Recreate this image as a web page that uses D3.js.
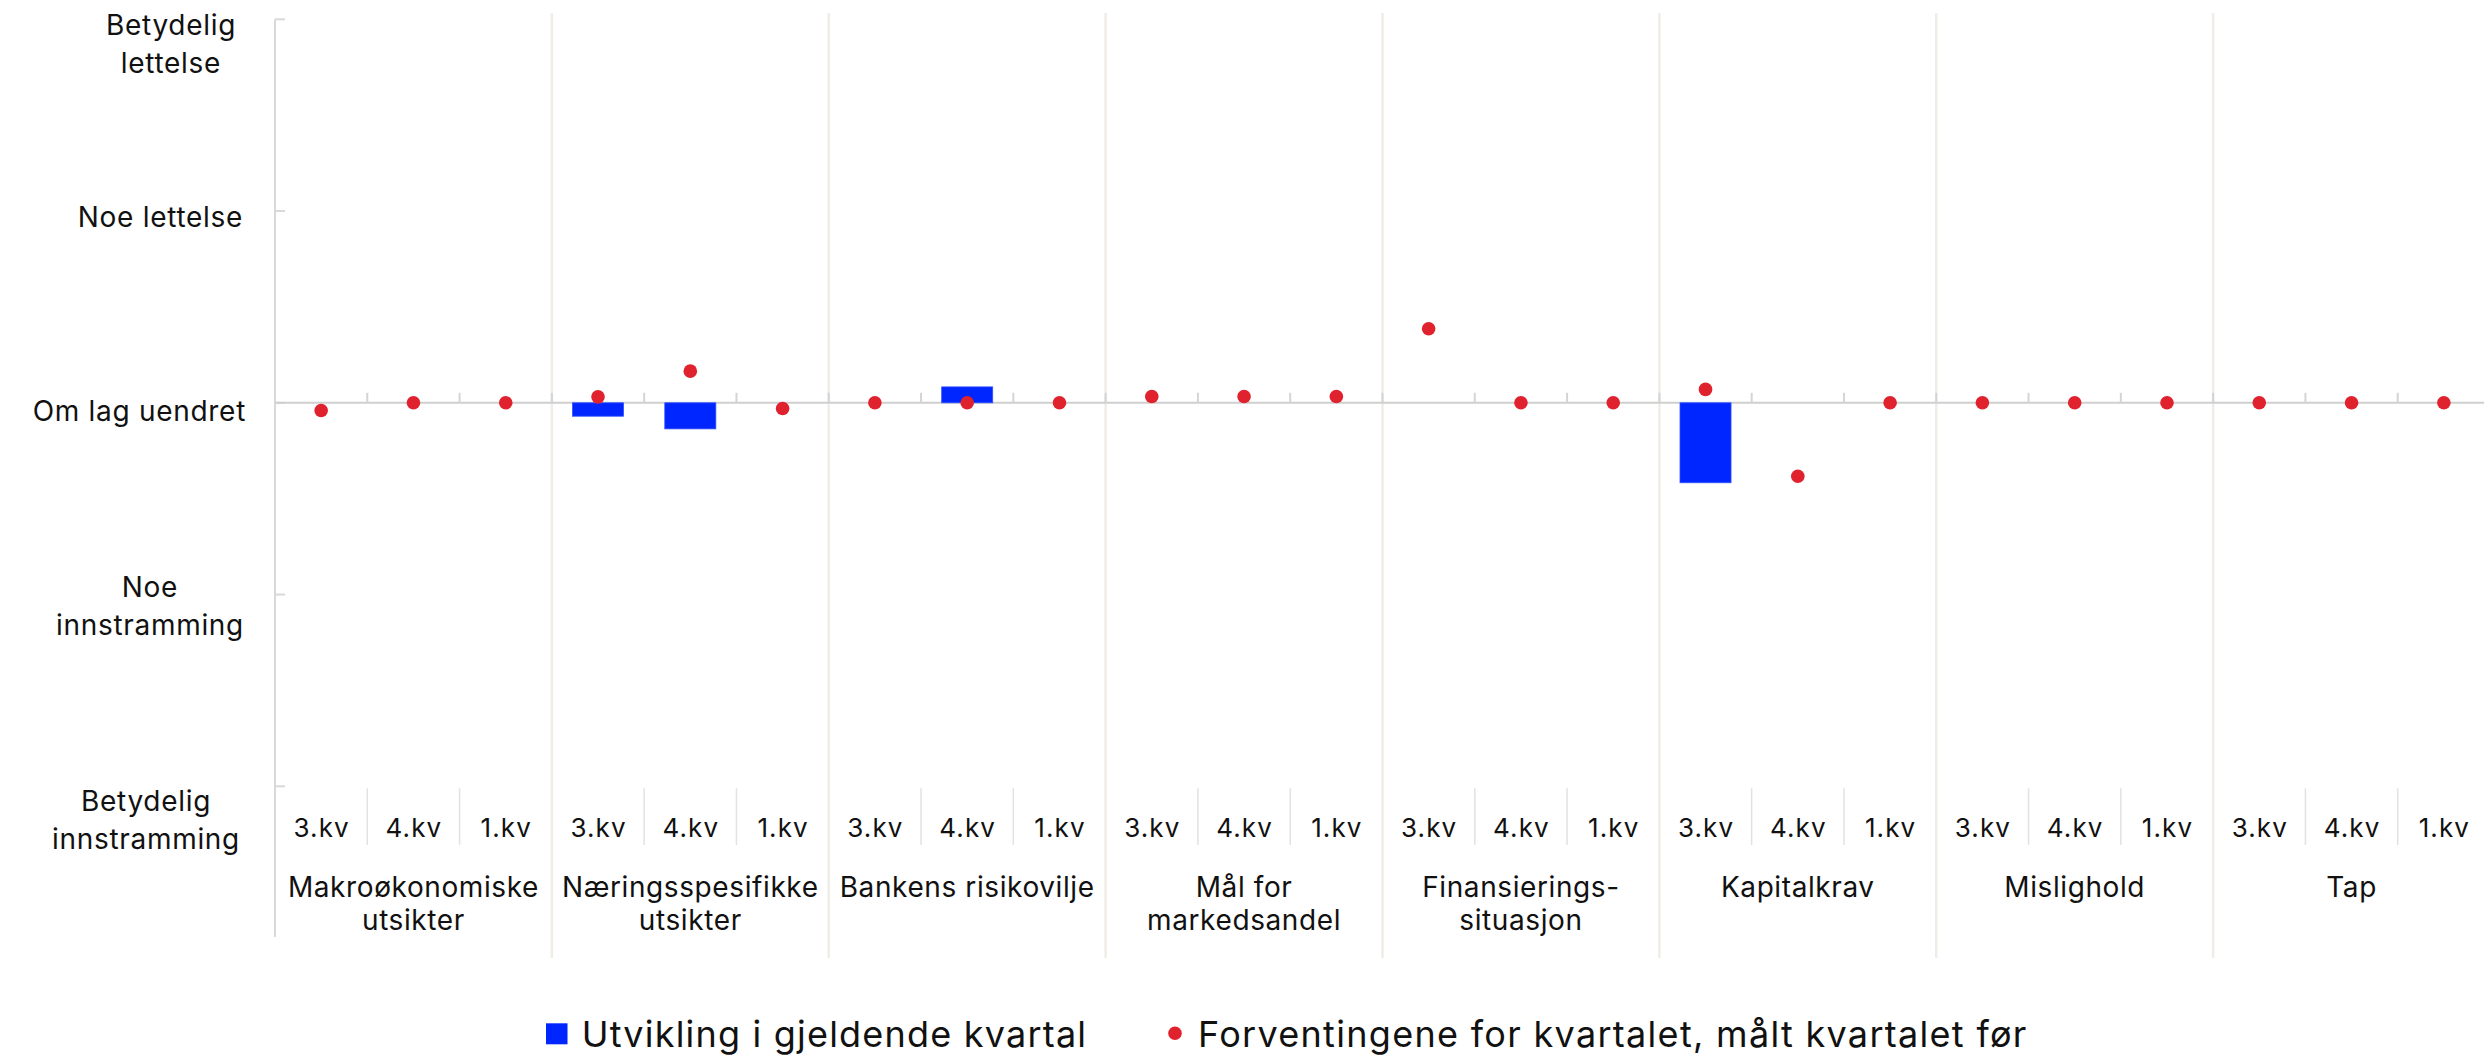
<!DOCTYPE html>
<html><head><meta charset="utf-8">
<script src="https://cdn.jsdelivr.net/npm/d3@7"></script>
<style>
html,body{margin:0;padding:0;background:#fff;}
svg{display:block;}
text{font-family:Inter, "Liberation Sans", sans-serif; fill:#111;}
</style></head><body>
<svg id="chart" width="2484" height="1057"></svg>
<script>
// ---------- data ----------
const groups = ["Makroøkonomiske utsikter","Næringsspesifikke utsikter","Bankens risikovilje","Mål for markedsandel","Finansierings-situasjon","Kapitalkrav","Mislighold","Tap"];
const groupLabelLines = [["Makroøkonomiske","utsikter"],["Næringsspesifikke","utsikter"],["Bankens risikovilje"],["Mål for","markedsandel"],["Finansierings-","situasjon"],["Kapitalkrav"],["Mislighold"],["Tap"]];
const quarters = ["3.kv","4.kv","1.kv"];
// Utvikling i gjeldende kvartal (bars), per group: 3.kv, 4.kv, 1.kv
const utvikling = [
  [0, 0, null],
  [-0.07, -0.136, null],
  [0, 0.083, null],
  [0, 0, null],
  [0, 0, null],
  [-0.417, 0, null],
  [0, 0, null],
  [0, 0, null]
];
// Forventingene for kvartalet, målt kvartalet før (dots)
const forventning = [
  [-0.04, 0, 0],
  [0.031, 0.165, -0.03],
  [0, 0, 0],
  [0.033, 0.033, 0.033],
  [0.386, 0, 0],
  [0.07, -0.383, 0],
  [0, 0, 0],
  [0, 0, 0]
];
const yTickValues = [-2, -1, 0, 1, 2];
const yTickLabels = [["Betydelig","innstramming"],["Noe","innstramming"],["Om lag uendret"],["Noe lettelse"],["Betydelig","lettelse"]];
const legendLabels = ["Utvikling i gjeldende kvartal","Forventingene for kvartalet, målt kvartalet før"];

// ---------- layout ----------
const W = 2484, H = 1057;
const plotLeft = 275, plotRight = 2490, plotTop = 19.3, plotBottom = 786.3;
const BLUE = "#0026ff", RED = "#e0222f";

const svg = d3.select("#chart");
svg.append("rect").attr("width", W).attr("height", H).attr("fill", "#fff");

const x0 = d3.scaleBand().domain(groups).range([plotLeft, plotRight]).padding(0);
const x1 = d3.scaleBand().domain(quarters).range([0, x0.bandwidth()]).padding(0);
const y = d3.scaleLinear().domain([-2, 2]).range([plotBottom, plotTop]);

// flat records
const records = [];
groups.forEach((g, gi) => quarters.forEach((q, qi) => {
  records.push({g, q, bar: utvikling[gi][qi], dot: forventning[gi][qi]});
}));
const cx = d => x0(d.g) + x1(d.q) + x1.bandwidth() / 2;

// group separators (beige)
const sepG = svg.append("g");
groups.forEach((g, i) => {
  if (i === 0) return;
  sepG.append("line").attr("x1", x0(g)).attr("x2", x0(g)).attr("y1", 13).attr("y2", 958)
    .attr("stroke", "#f0ece6").attr("stroke-width", 2.5);
});
sepG.append("line").attr("x1", plotRight).attr("x2", plotRight).attr("y1", 13).attr("y2", 958)
  .attr("stroke", "#f0ece6").attr("stroke-width", 2.5);

// bottom sub-category ticks (within groups)
const subTicks = svg.append("g");
groups.forEach(g => {
  quarters.forEach((q, qi) => {
    if (qi === 0) return;
    const xx = x0(g) + x1(q);
    subTicks.append("line").attr("x1", xx).attr("x2", xx).attr("y1", plotBottom + 2).attr("y2", 845)
      .attr("stroke", "#e2e2e2").attr("stroke-width", 1.5);
  });
});

// y axis
const yAxis = d3.axisLeft(y).tickValues(yTickValues).tickSize(0).tickFormat("");
const yAxisG = svg.append("g").attr("transform", `translate(${plotLeft},0)`).call(yAxis);
yAxisG.select(".domain").remove();
yAxisG.append("line").attr("x1", 0).attr("x2", 0).attr("y1", plotTop).attr("y2", 937)
  .attr("stroke", "#d9d9d9").attr("stroke-width", 2);
yTickValues.forEach(v => {
  yAxisG.append("line").attr("x1", 0).attr("x2", 10).attr("y1", y(v)).attr("y2", y(v))
    .attr("stroke", "#d9d9d9").attr("stroke-width", 2);
});

// y labels
const yLabelBaseline = [25, 2, 18.5, 16, 16];
const yLabelRight = [240, 244, 246, 243, 236];
const yLabelG = svg.append("g");
yTickValues.forEach((v, i) => {
  const t = yLabelG.append("text").attr("font-size", 28).attr("letter-spacing", 0.7).attr("text-anchor", "middle");
  const lines = yTickLabels[i];
  const spans = lines.map((ln, li) => t.append("tspan").attr("y", y(v) + yLabelBaseline[i] + li * 38).text(ln));
  const maxW = d3.max(spans, s => s.node().getComputedTextLength());
  const cxx = yLabelRight[i] - maxW / 2;
  spans.forEach(s => s.attr("x", cxx));
});

// zero line
svg.append("line").attr("x1", plotLeft).attr("x2", W).attr("y1", y(0)).attr("y2", y(0))
  .attr("stroke", "#cfcfcf").attr("stroke-width", 2);
// category ticks on zero line
const zeroTicks = svg.append("g");
for (let k = 1; k < groups.length * quarters.length; k++) {
  const xx = plotLeft + k * x1.bandwidth();
  zeroTicks.append("line").attr("x1", xx).attr("x2", xx).attr("y1", y(0) - 10).attr("y2", y(0))
    .attr("stroke", "#d4d4d4").attr("stroke-width", 2);
}

// bars
const barW = x1.bandwidth() * 0.553;
svg.append("g").selectAll("rect").data(records.filter(d => d.bar !== null && d.bar !== 0)).join("rect")
  .attr("x", d => cx(d) - barW / 2)
  .attr("y", d => Math.min(y(d.bar), y(0)))
  .attr("width", barW)
  .attr("height", d => Math.abs(y(d.bar) - y(0)))
  .attr("fill", BLUE).attr("stroke", "#3050ff").attr("stroke-width", 0.8);

// dots
svg.append("g").selectAll("circle").data(records.filter(d => d.dot !== null)).join("circle")
  .attr("cx", cx).attr("cy", d => y(d.dot)).attr("r", 6.8).attr("fill", RED);

// sub-category labels
svg.append("g").selectAll("text").data(records).join("text")
  .attr("x", d => cx(d) + 0.5).attr("y", 837).attr("text-anchor", "middle").attr("font-size", 26)
  .attr("letter-spacing", 1.1)
  .text(d => d.q);

// group labels
const gl = svg.append("g");
groups.forEach((g, gi) => {
  const t = gl.append("text").attr("text-anchor", "middle").attr("font-size", 28).attr("letter-spacing", 0.6);
  groupLabelLines[gi].forEach((ln, li) => {
    t.append("tspan").attr("x", x0(g) + x0.bandwidth() / 2).attr("y", 896.7 + li * 33.5).text(ln);
  });
});

// legend
const lg = svg.append("g");
lg.append("rect").attr("x", 546).attr("y", 1023.3).attr("width", 21.5).attr("height", 21).attr("fill", BLUE);
lg.append("text").attr("x", 581.7).attr("y", 1046.7).attr("font-size", 36).attr("letter-spacing", 1.2).text(legendLabels[0]);
lg.append("circle").attr("cx", 1175).attr("cy", 1033.3).attr("r", 6.8).attr("fill", RED);
lg.append("text").attr("x", 1198).attr("y", 1046.7).attr("font-size", 36).attr("letter-spacing", 1.3).text(legendLabels[1]);
</script>
</body></html>
